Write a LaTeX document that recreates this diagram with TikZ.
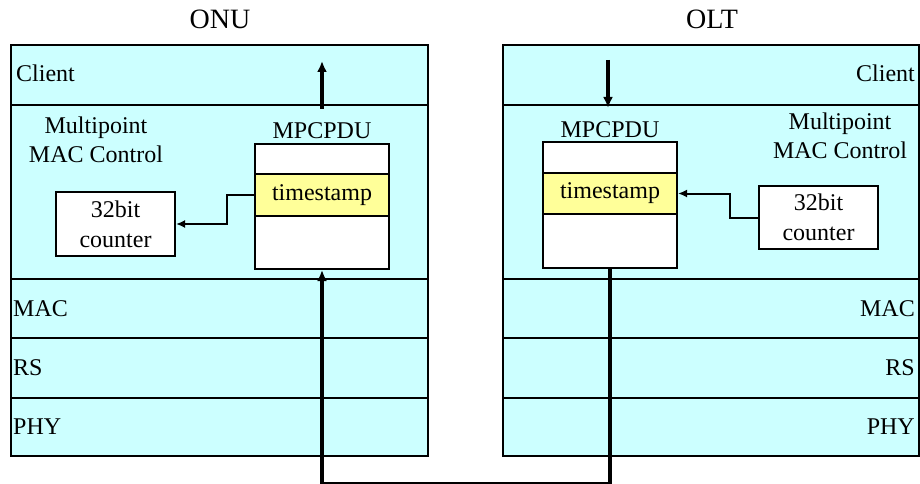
\documentclass[tikz,border=0pt]{standalone}
\usepackage{fontspec}
\setmainfont{Liberation Serif}
\usetikzlibrary{arrows.meta}
\definecolor{layercyan}{HTML}{CCFFFF}
\definecolor{tsyellow}{HTML}{FFFF99}
\begin{document}
\begin{tikzpicture}[x=1pt,y=-1pt,
 layer/.style={draw=black, line width=2pt, fill=layercyan, rectangle, inner sep=0pt, anchor=north west},
 whitebox/.style={draw=black, line width=2pt, fill=white, rectangle, inner sep=0pt, anchor=north west},
 tsbox/.style={draw=black, line width=2pt, fill=tsyellow, rectangle, inner sep=0pt, anchor=north west, font=\fontsize{24}{29}\selectfont},
 lbl/.style={font=\fontsize{24}{29}\selectfont, inner sep=0pt},
 title/.style={font=\fontsize{28}{32}\selectfont, inner sep=0pt},
 thickarrow/.style={line width=3.5pt, -{Latex[length=11pt,width=10pt]}},
 thinarrow/.style={line width=2pt, -{Latex[length=9pt,width=8pt]}},
]
\useasboundingbox (0,0) rectangle (920,484);

% titles
\node[title, anchor=base] (onutitle) at (220,29) {ONU};
\node[title, anchor=base] (olttitle) at (712,29) {OLT};

% ONU layers
\node[layer, minimum width=417pt, minimum height=60pt]  (onuclient) at (10,44) {};
\node[layer, minimum width=417pt, minimum height=174pt] (onumpmc)   at (10,104) {};
\node[layer, minimum width=417pt, minimum height=59pt]  (onumac)    at (10,278) {};
\node[layer, minimum width=417pt, minimum height=60pt]  (onurs)     at (10,337) {};
\node[layer, minimum width=417pt, minimum height=58pt]  (onuphy)    at (10,397) {};

% OLT layers
\node[layer, minimum width=416pt, minimum height=60pt]  (oltclient) at (502,44) {};
\node[layer, minimum width=416pt, minimum height=174pt] (oltmpmc)   at (502,104) {};
\node[layer, minimum width=416pt, minimum height=59pt]  (oltmac)    at (502,278) {};
\node[layer, minimum width=416pt, minimum height=60pt]  (oltrs)     at (502,337) {};
\node[layer, minimum width=416pt, minimum height=58pt]  (oltphy)    at (502,397) {};

% layer texts ONU
\node[lbl, anchor=base west] (onuclienttxt) at (16,82) {Client};
\node[lbl, anchor=base west] (onumactxt) at (13,316) {MAC};
\node[lbl, anchor=base west] (onurstxt) at (13,375) {RS};
\node[lbl, anchor=base west] (onuphytxt) at (13,434) {PHY};
\node[lbl, align=center, anchor=center] (onumpmctxt) at (96,139.5) {Multipoint\\MAC Control};

% layer texts OLT
\node[lbl, anchor=base east] (oltclienttxt) at (915,82) {Client};
\node[lbl, anchor=base east] (oltmactxt) at (915,316) {MAC};
\node[lbl, anchor=base east] (oltrstxt) at (915,375) {RS};
\node[lbl, anchor=base east] (oltphytxt) at (915,434) {PHY};
\node[lbl, align=center, anchor=center] (oltmpmctxt) at (840,135.5) {Multipoint\\MAC Control};

% ONU MPCPDU
\node[lbl, anchor=base] (onupdulbl) at (322,139) {MPCPDU};
\node[whitebox, minimum width=134pt, minimum height=125pt] (onupdu) at (254,143) {};
\node[tsbox, minimum width=134pt, minimum height=42pt] (onuts) at (254,173) {timestamp};
\node[whitebox, minimum width=119pt, minimum height=64pt, align=center, font=\fontsize{24}{30}\selectfont] (onucounter) at (55,191) {32bit\\counter};

% OLT MPCPDU
\node[lbl, anchor=base] (oltpdulbl) at (610,137) {MPCPDU};
\node[whitebox, minimum width=134pt, minimum height=126pt] (oltpdu) at (542,141) {};
\node[tsbox, minimum width=134pt, minimum height=41pt] (oltts) at (542,172) {timestamp};
\node[whitebox, minimum width=119pt, minimum height=63pt, align=center, font=\fontsize{24}{30}\selectfont] (oltcounter) at (758,185) {32bit\\counter};

% client arrows
\coordinate (onuupstart) at (322,109);
\coordinate (onuupend) at (322,61);
\draw[thickarrow] (onuupstart) -- (onuupend);
\coordinate (oltdownstart) at (608,60);
\coordinate (oltdownend) at (608,108);
\draw[thickarrow] (oltdownstart) -- (oltdownend);

% timestamp <-> counter
\draw[thinarrow] (onuts.west) -- ++(-27,0) |- (onucounter.east);
\draw[thinarrow] (oltcounter.west) -- ++(-28,0) |- (oltts.east);

% PHY link loop
\draw[thickarrow] (oltpdu.south) -- ++(0,215) -| (onupdu.south);
\end{tikzpicture}
\end{document}
